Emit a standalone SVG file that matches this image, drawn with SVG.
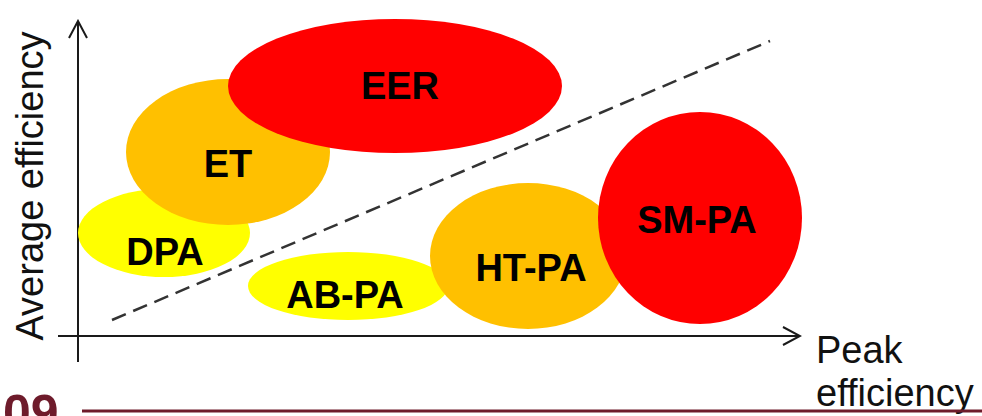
<svg xmlns="http://www.w3.org/2000/svg" width="982" height="416" viewBox="0 0 982 416">
<defs>
<style>
.lbl{font-family:"Liberation Sans",Arial,sans-serif;font-weight:bold;font-size:38px;fill:#000;text-anchor:middle}
.ax{font-family:"Liberation Sans",Arial,sans-serif;font-size:38px;fill:#111}
.red{fill:#FF0000}
.org{fill:#FFC000}
.yel{fill:#FFFF00}
.axis{stroke:#1a1a1a;stroke-width:2;fill:none}
</style>
<marker id="arr" viewBox="0 0 20 20" refX="18" refY="10" markerWidth="20" markerHeight="20" markerUnits="userSpaceOnUse" orient="auto">
<path d="M1,1 L18,10 L1,19" fill="none" stroke="#1a1a1a" stroke-width="2"/>
</marker>
</defs>
<rect width="982" height="416" fill="#fff"/>
<g id="connectors">
<line class="axis" x1="78" y1="362" x2="78" y2="21" marker-end="url(#arr)"/>
<line class="axis" x1="58" y1="336" x2="800" y2="336" marker-end="url(#arr)"/>
<line x1="112" y1="320" x2="770" y2="41" stroke="#333" stroke-width="2.5" stroke-dasharray="15 8"/>
</g>
<g id="DPA"><ellipse class="yel" cx="164" cy="233" rx="86" ry="44"/><text class="lbl" x="165" y="265">DPA</text></g>
<g id="ET"><ellipse class="org" cx="228" cy="152" rx="102" ry="73"/><text class="lbl" x="228" y="177">ET</text></g>
<g id="EER"><ellipse class="red" cx="395" cy="86" rx="167" ry="67"/><text class="lbl" x="400" y="99">EER</text></g>
<g id="AB-PA"><ellipse class="yel" cx="348" cy="286" rx="100" ry="34"/><text class="lbl" x="345" y="308">AB-PA</text></g>
<g id="HT-PA"><ellipse class="org" cx="528" cy="256" rx="98" ry="73"/><text class="lbl" x="531" y="281">HT-PA</text></g>
<g id="SM-PA"><ellipse class="red" cx="700" cy="218" rx="102" ry="106"/><text class="lbl" x="697" y="233">SM-PA</text></g>
<g id="y-label"><text class="ax" transform="translate(43,186) rotate(-90)" text-anchor="middle">Average efficiency</text></g>
<g id="x-label"><text class="ax" x="816" y="363">Peak</text><text class="ax" x="816" y="406">efficiency</text></g>
<g id="footer">
<line x1="82" y1="411" x2="982" y2="411" stroke="#6E1B2B" stroke-width="3"/>
<text x="3" y="430" font-family="Liberation Sans,Arial,sans-serif" font-weight="bold" font-size="50" fill="#6E1B2B">09</text>
</g>
</svg>
